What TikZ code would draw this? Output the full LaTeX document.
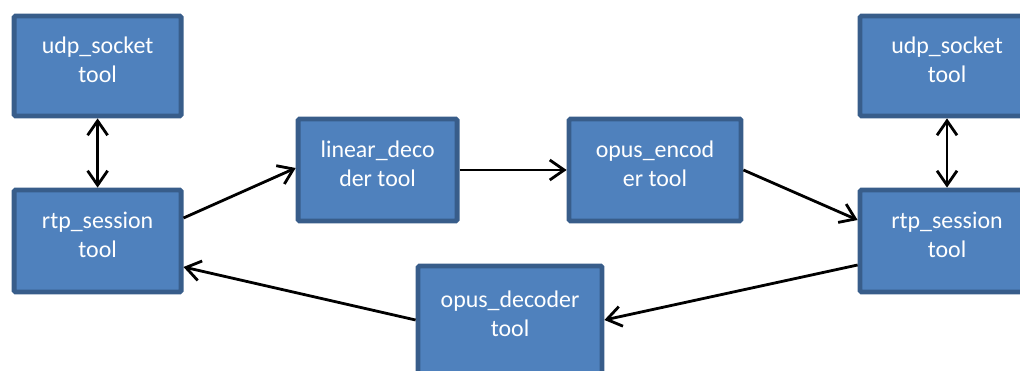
\documentclass[tikz,border=0pt]{standalone}
\usepackage{fontspec}
\setmainfont{Carlito}
\usepackage{tikz}
\usetikzlibrary{arrows.meta, positioning}
\definecolor{toolfill}{RGB}{79, 129, 189}
\definecolor{toolline}{RGB}{56, 93, 138}

\tikzset{
    tool/.style={draw=toolline, fill=toolfill, line width=0.12cm, rounded corners=1pt,
        minimum width=4.175cm, minimum height=2.55cm, align=center, text=white,
        text depth=0.32cm, font=\fontsize{17}{20.5}\selectfont},
    flow/.style={line width=0.07cm, -{Straight Barb[length=3.6mm, width=5mm]}},
    duplex/.style={line width=0.07cm, {Straight Barb[length=3.6mm, width=5mm]}-{Straight Barb[length=3.6mm, width=5mm]}}
}

\begin{document}
\begin{tikzpicture}
    \useasboundingbox (0,0) rectangle (25.5,9.275);

    % left side: socket and session
    \node[tool, minimum height=2.5cm] (udpL) at (2.44, 7.625) {udp\_socket\\tool};
    \node[tool] (rtpL) at (2.44, 3.25) {rtp\_session\\tool};

    % middle: transcoding chain
    \node[tool, minimum width=3.975cm] (linear) at (9.44, 5.025) {linear\_deco\\der tool};
    \node[tool, minimum width=4.3cm] (opusE) at (16.375, 5.025) {opus\_encod\\er tool};
    \node[tool, minimum width=4.6cm, minimum height=2.7cm] (opusD) at (12.75, 1.275) {opus\_decoder\\tool};

    % right side: socket and session
    \node[tool, minimum width=4.35cm, minimum height=2.5cm] (udpR) at (23.675, 7.625) {udp\_socket\\tool};
    \node[tool, minimum width=4.35cm] (rtpR) at (23.675, 3.25) {rtp\_session\\tool};

    % connections
    \draw[duplex] (udpL) -- (rtpL);
    \draw[duplex] (udpR) -- (rtpR);
    \draw[flow] ([yshift=0.575cm]rtpL.east) -- ([yshift=0.05cm]linear.west);
    \draw[flow] (linear) -- (opusE);
    \draw[flow] (opusE.east) -- ([yshift=0.525cm]rtpR.west);
    \draw[flow] ([yshift=-0.6cm]rtpR.west) -- ([yshift=0.0cm]opusD.east);
    \draw[flow] ([yshift=0.0cm]opusD.west) -- ([yshift=-0.65cm]rtpL.east);
\end{tikzpicture}
\end{document}
